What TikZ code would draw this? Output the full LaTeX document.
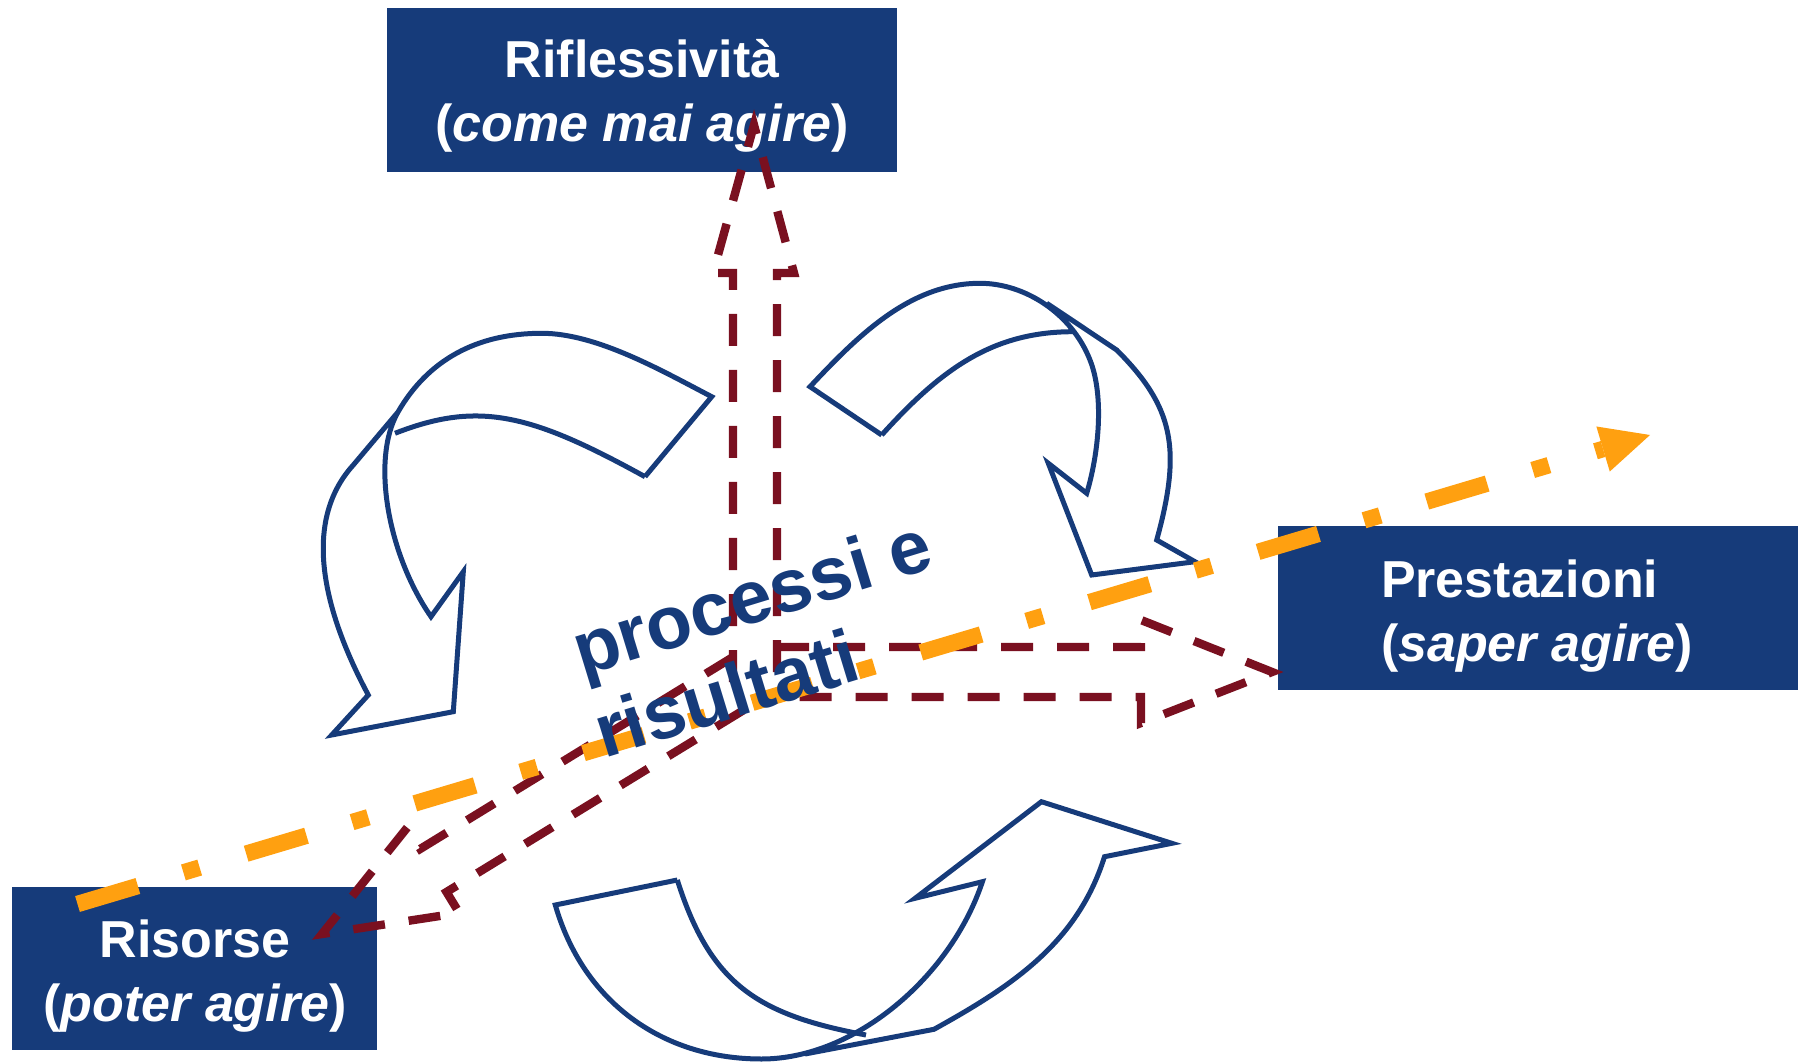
\documentclass[tikz,border=0pt]{standalone}
\usepackage{fontspec}
\setmainfont{Liberation Sans}
\usetikzlibrary{arrows.meta}
\definecolor{navy}{HTML}{163B7A}
\definecolor{wine}{HTML}{7A1020}
\definecolor{amber}{HTML}{FFA010}
\begin{document}
\begin{tikzpicture}[x=0.5pt,y=-0.5pt,
  bluebox/.style={fill=navy, draw=none, inner sep=0pt, outer sep=0pt, anchor=north west},
  boxtext/.style={text=white, font=\fontsize{26}{30}\selectfont\bfseries, inner sep=0pt, outer sep=0pt},
  curved/.style={draw=navy, line width=2.5pt, line join=miter},
  redarrow/.style={draw=wine, line width=4.2pt, dash pattern=on 16pt off 12pt, line join=miter},
  orangeline/.style={draw=amber, line width=8.25pt, dash pattern=on 31.5pt off 23.75pt on 8.5pt off 24.25pt},
  centertext/.style={text=navy, font=\fontsize{37.5}{40}\selectfont\bfseries, inner sep=0pt, outer sep=0pt, rotate=17, anchor=base west}
]
\useasboundingbox (0,0) rectangle (1798,1063);

% boxes
\node[bluebox, minimum width=255pt, minimum height=82pt] (riflbox) at (387,8) {};
\node[bluebox, minimum width=262pt, minimum height=82pt] (prestbox) at (1278,526) {};
\node[bluebox, minimum width=182.5pt, minimum height=81.5pt] (risbox) at (12,887) {};

\node[boxtext, anchor=base] (rifl1) at (642,78) {Riflessività};
\node[boxtext, anchor=base] (rifl2) at (642,142) {(\textit{come mai agire})};
\node[boxtext, anchor=base west] (prest1) at (1381,597) {Prestazioni};
\node[boxtext, anchor=base west] (prest2) at (1381,661) {(\textit{saper agire})};
\node[boxtext, anchor=base] (ris1) at (195,957) {Risorse};
\node[boxtext, anchor=base] (ris2) at (195,1021) {(\textit{poter agire})};

% circular arrow 1 (top left)
\draw[curved] (645,476.7) -- (711.7,396.7)
  .. controls (661.7,370.7) and (596.7,333.3) .. (541.7,333.3)
  .. controls (476.7,333.3) and (428,360) .. (398,412)
  .. controls (370.5,459.9) and (388.3,555.2) .. (431,616.7)
  -- (463.3,571.7) -- (453.3,711.7) -- (331.7,735) -- (368.3,695)
  .. controls (326,615.8) and (299.7,524.2) .. (353.3,465) -- (398,412);
\draw[curved] (645,476.7) .. controls (531.1,413.9) and (478.7,400.5) .. (395,433.3);

% circular arrow 2 (top right)
\draw[curved] (881.7,435) -- (810,386.7)
  .. controls (858,335.7) and (910,283.3) .. (980,283.3)
  .. controls (1025,283.3) and (1071.7,313.5) .. (1090,360)
  .. controls (1104.7,397.2) and (1098.3,455) .. (1086.7,493.3)
  -- (1048.3,463.3) -- (1091.7,575) -- (1195,561.7) -- (1156.7,540)
  .. controls (1182.1,448.4) and (1173.3,406.6) .. (1116.7,350) -- (1046.7,303.3);
\draw[curved] (881.7,435) .. controls (942,368.2) and (993.3,331.7) .. (1073.3,331.7);

% circular arrow 3 (bottom)
\draw[curved] (677.3,880) -- (555.3,905)
  .. controls (582.9,1001.1) and (661.5,1059) .. (761.5,1059)
  .. controls (855,1059) and (950.9,976.6) .. (982.4,881.7)
  -- (915.1,898.3) -- (1041.4,801.7) -- (1171.8,843.3) -- (1104.5,856.7)
  .. controls (1077.5,942.6) and (1012.8,985.7) .. (934,1029.3) -- (805,1054);
\draw[curved] (677.3,880) .. controls (710.5,984.8) and (757.9,1014.8) .. (866,1035);

% dashed block arrows
\coordinate (upTip) at (754,125);
\coordinate (rightTip) at (1272,672);
\coordinate (diagTip) at (322,934);
\draw[redarrow] (733,682) -- (733,273) -- (713,273) -- (upTip) -- (794,273) -- (777,273) -- (777,682);
\draw[redarrow] (777,647) -- (1141,647) -- (1141,620) -- (rightTip) -- (1141,723) -- (1141,697) -- (765,697);
\draw[redarrow] (733,657) -- (420.3,848.9) -- (407.3,827.5) -- (diagTip) -- (459.3,913) -- (446.5,892) -- (765,697);

% orange dash-dot arrow
\coordinate (oStart) at (77.5,904);
\coordinate (oEnd) at (1650,435);
\draw[orangeline, -{Triangle[length=24.5pt,width=23.5pt,line width=0pt]}] (oStart) -- (oEnd);

% central text
\node[centertext] (proc1) at (582,676) {processi e};
\node[centertext] (proc2) at (604,758) {risultati};
\end{tikzpicture}
\end{document}
